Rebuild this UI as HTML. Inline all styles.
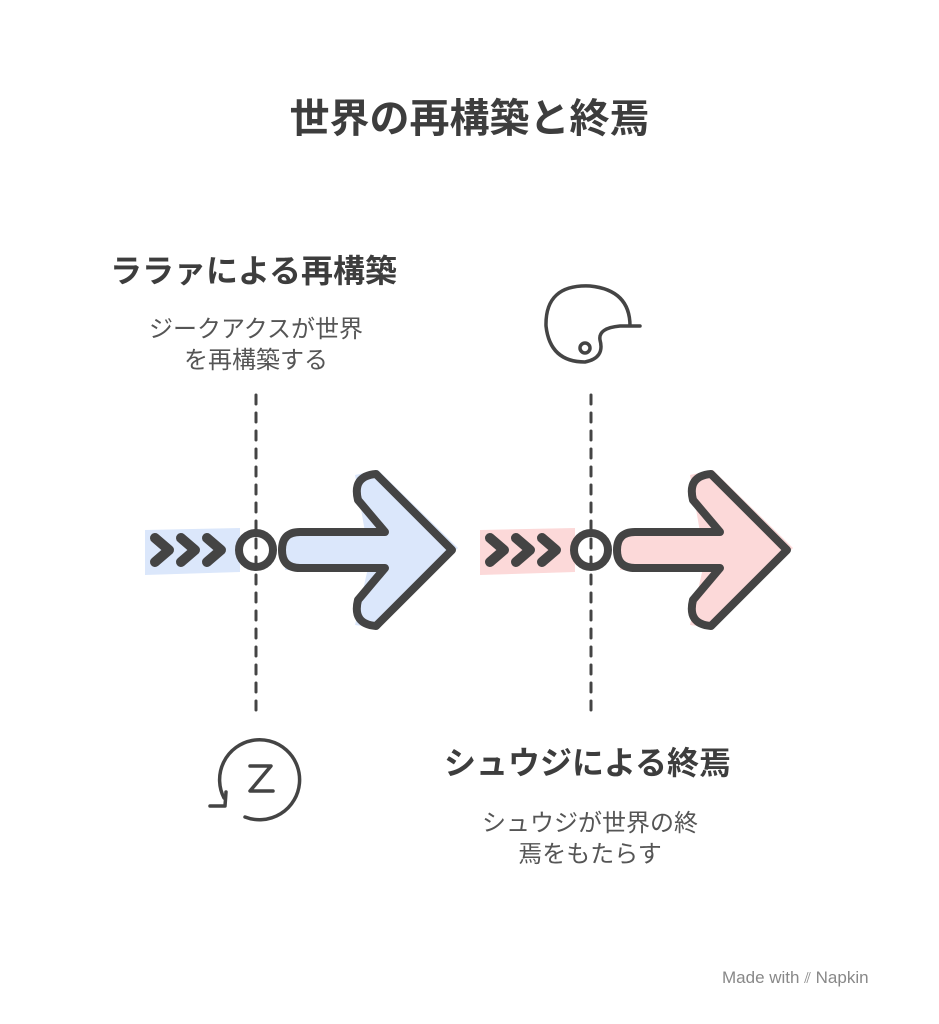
<!DOCTYPE html>
<html><head><meta charset="utf-8"><style>
body{margin:0;background:#fff;width:939px;height:1024px;position:relative;overflow:hidden;font-family:"Liberation Sans","Noto Sans CJK JP",sans-serif;color:#444}
.t{position:absolute;white-space:nowrap}
</style></head><body>
<div class="t" style="left:0;width:939px;top:86px;text-align:center;font-size:40px;font-weight:bold;color:#3d3d3d">世界の再構築と終焉</div>
<div class="t" style="left:110px;top:246px;font-size:32px;font-weight:bold;color:#3d3d3d">ララァによる再構築</div>
<div class="t" style="left:116px;width:280px;top:314px;text-align:center;font-size:24px;line-height:31px;color:#555">ジークアクスが世界<br>を再構築する</div>
<div class="t" style="left:444px;top:738px;font-size:32px;font-weight:bold;color:#3d3d3d">シュウジによる終焉</div>
<div class="t" style="left:450px;width:280px;top:808px;text-align:center;font-size:24px;line-height:31px;color:#555">シュウジが世界の終<br>焉をもたらす</div>
<div class="t" style="left:722px;top:968px;font-size:17px;color:#888">Made with <span style="font-size:15px">⫽</span> Napkin</div>
<svg width="939" height="1024" style="position:absolute;left:0;top:0" fill="none" stroke="#444" stroke-linecap="round" stroke-linejoin="round">
<g stroke-width="3" stroke-dasharray="9 9">
<line x1="256" y1="395" x2="256" y2="710"/><line x1="591" y1="395" x2="591" y2="710"/>
</g>
<polygon points="145,530 240,528 240,572 145,575" fill="#dbe7fb" stroke="none"/>
<polygon points="285,532 365,532 355,475 378,470 458,548 378,628 355,625 368,568 285,570" fill="#dbe7fb" stroke="none"/>
<polygon points="480,530 575,528 575,572 480,575" fill="#fcd9d9" stroke="none"/>
<polygon points="620,532 700,532 690,475 713,470 793,548 713,628 690,625 703,568 620,570" fill="#fcd9d9" stroke="none"/>
<g stroke-width="8">
<g id="L">
<path d="M155,538 l14,12 l-14,12 M181,538 l14,12 l-14,12 M207,538 l14,12 l-14,12" stroke-width="10"/>
<circle cx="256" cy="550" r="17"/>
<path d="M300,532 L385,532 L358,500 Q352,476 376,474 L452,550 L376,626 Q352,624 358,600 L385,568 L300,568 Q282,568 282,550 Q282,532 300,532 Z"/>
</g>
<use href="#L" transform="translate(335,0)"/>
</g>
<g stroke-width="3.5">
<path d="M626,326 L640,326 M630,326 Q630,290 590,286 Q545,284 546,326 Q550,362 585,362 Q605,358 600,340 Q598,328 620,326 Z" />
<circle cx="585" cy="348" r="5"/>
<path d="M245,817 A40,40 0 1,0 224,798"/>
<path d="M210,806 L225,806 L226,792"/>
<path d="M250,766 L271,766 L250,791 L273,791"/>
</g>
</svg>
</body></html>
